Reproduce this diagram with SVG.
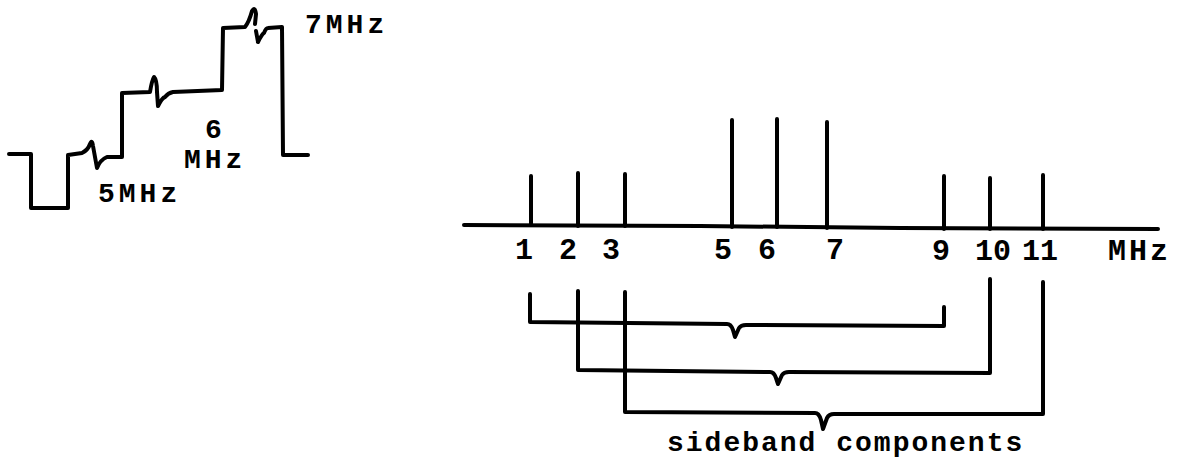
<svg xmlns="http://www.w3.org/2000/svg" width="1178" height="462" viewBox="0 0 1178 462">
<style>
.ln{fill:none;stroke:#000;stroke-width:4;stroke-linecap:round;stroke-linejoin:round}
.t{font-family:"Liberation Mono","Courier New",monospace;font-weight:bold;fill:#000}
.a{font-size:30px}
.s{font-size:28px;letter-spacing:2px}
.w{font-size:28px;letter-spacing:4px}
</style>
<rect width="1178" height="462" fill="#fff"/>
<g id="waveform">
<path class="ln" d="M9,154 L31,154 L31,208 L68,208 L68,155 L82,153 Q88,150 90,144 Q92,139 93,146 L97,168 Q100,160 107,157 L122,157 L122,93 L150,92 Q152,80 154,77 Q157,80 157,92 L158,106 Q162,98 165,97 Q168,93 173,92 L222,90 L223,28 L245,27 Q249,22 252,11 Q255,6 256,14 L255,24"/>
<path class="ln" d="M256,31 L258,42 M258,42 Q262,34 264,33 Q266,28 268,28 L282,27 L283,155 L308,155"/>
<text class="t w" x="305" y="33">7MHz</text>
<text class="t w" x="205" y="138">6</text>
<text class="t w" x="184" y="168">MHz</text>
<text class="t w" x="98" y="202">5MHz</text>
</g>
<g id="spectrum">
<path class="ln" d="M464,225 L700,226 L900,228 L1158,229"/>
<path class="ln" d="M531,225 V176 M578,226 V173 M625,226 V174 M732,227 V120 M777,227 V119 M827,228 V122 M944,229 V176 M990,229 V178 M1043,229 V175"/>
<g class="t a">
<text x="524" y="259" text-anchor="middle">1</text>
<text x="568" y="259" text-anchor="middle">2</text>
<text x="611" y="259" text-anchor="middle">3</text>
<text x="723" y="259" text-anchor="middle">5</text>
<text x="767" y="259" text-anchor="middle">6</text>
<text x="835" y="259" text-anchor="middle">7</text>
<text x="941" y="260" text-anchor="middle">9</text>
<text x="993" y="260" text-anchor="middle">10</text>
<text x="1040" y="260" text-anchor="middle">11</text>
<text x="1108" y="260" letter-spacing="3">MHz</text>
</g>
</g>
<g id="connectors">
<path class="ln" d="M530,294 V322 L727,324 Q731,324 733,330 L735,337 L739,328 Q741,325 746,325 L944,326 V307"/>
<path class="ln" d="M578,291 V370 L770,372 Q774,372 776,378 L778,384 L782,375 Q784,372 789,372 L990,373 V279"/>
<path class="ln" d="M625,292 V412 L815,413 Q819,413 821,420 L823,429 L827,418 Q829,414 834,414 L1043,414 V282"/>
</g>
<text id="caption" class="t s" x="667" y="451">sideband components</text>
</svg>
